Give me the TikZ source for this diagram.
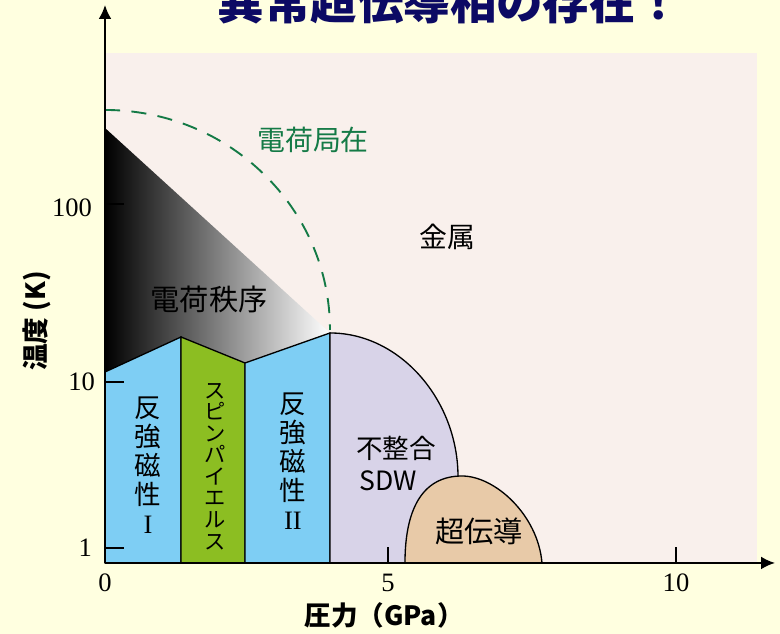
\documentclass[tikz,border=0pt]{standalone}
\usepackage{fontspec}
\setmainfont{Liberation Serif}
\newfontfamily\jpfont{Noto Sans CJK JP}
\usetikzlibrary{arrows.meta}

\definecolor{cffffe0}{RGB}{255,255,224}
\definecolor{cf9f0ec}{RGB}{249,240,236}
\definecolor{c7ecef4}{RGB}{126,206,244}
\definecolor{c8cbe22}{RGB}{140,190,34}
\definecolor{cd8d3e8}{RGB}{216,211,232}
\definecolor{ce8caa8}{RGB}{232,202,168}
\definecolor{c147a46}{RGB}{20,122,70}
\definecolor{c0c0a64}{RGB}{12,10,100}
\def \globalscale {1.000000}

\begin{document}
\begin{tikzpicture}[y=1cm, x=1cm, yscale=\globalscale,xscale=\globalscale, every node/.append style={scale=\globalscale}, inner sep=0pt, outer sep=0pt,
  phase/.style={draw=black,line width=0.035cm},
  axis/.style={draw=black,line width=0.05cm,-{Latex[length=0.37cm,width=0.34cm]}},
  tick/.style={draw=black,line width=0.07cm},
  num/.style={text=black,font=\fontsize{20}{24}\selectfont},
  jplabel/.style={text=black,font=\jpfont\fontsize{21}{25}\selectfont}]
  \useasboundingbox (0,0) rectangle (20.637,16.774);
  \path[fill=cffffe0] (0,0) rectangle (20.637,16.774);

  \node[text=c0c0a64,anchor=base,font=\jpfont\bfseries\fontsize{35}{40}\selectfont] (textTitle) at (11.906, 16.246){異常超伝導相の存在！};



  \path[fill=cf9f0ec] (2.778, 1.879) rectangle (20.029, 15.372);



  \path[left color=black,right color=white] (2.778, 13.388) -- (8.731, 7.964) -- (6.482, 7.170) -- (4.789, 7.858) -- (2.778, 6.932) -- cycle;



  \path[draw=c147a46,line width=0.05cm,dash pattern=on 0.4cm off 0.3cm] (2.778, 13.864) arc[start angle=90, end angle=0, x radius=5.953, y radius=5.821];



  \path[phase,fill=c7ecef4] (2.778, 6.932) -- (4.789, 7.858) -- (4.789, 1.879) -- (2.778, 1.879) -- cycle;



  \path[phase,fill=c8cbe22] (4.789, 7.858) -- (6.482, 7.170) -- (6.482, 1.879) -- (4.789, 1.879) -- cycle;



  \path[phase,fill=c7ecef4] (6.482, 7.170) -- (8.731, 7.964) -- (8.731, 1.879) -- (6.482, 1.879) -- cycle;



  \path[fill=cd8d3e8] (8.731, 1.879) -- (8.731, 7.964).. controls (10.583, 7.964) and (12.118, 6.191) .. (12.118, 4.154) -- (12.118, 1.879) -- cycle;



  \path[phase] (8.731, 1.879) -- (8.731, 7.964).. controls (10.583, 7.964) and (12.118, 6.191) .. (12.118, 4.154);



  \path[phase,fill=ce8caa8] (10.715, 1.879).. controls (10.715, 3.413) and (11.245, 4.180) .. (12.224, 4.180).. controls (13.097, 4.180) and (14.234, 3.149) .. (14.340, 1.879) -- cycle;



  \coordinate (origin) at (2.778, 1.879);
  \coordinate (yEnd) at (2.778, 16.642);
  \coordinate (xEnd) at (20.505, 1.879);
  \path[axis] (origin) -- (yEnd);
  \path[axis] (origin) -- (xEnd);



  \path[tick] (2.778, 11.377) -- (3.281, 11.377);
  \path[tick] (2.778, 6.667) -- (3.281, 6.667);
  \path[tick] (2.778, 2.275) -- (3.281, 2.275);
  \path[tick] (10.266, 1.879) -- (10.266, 2.302);
  \path[tick] (17.886, 1.879) -- (17.886, 2.302);



  \node[num,anchor=east] (text100) at (2.434, 11.271){100};
  \node[num,anchor=east] (text10) at (2.514, 6.667){10};
  \node[num,anchor=east] (text1) at (2.434, 2.275){1};
  \node[num] (textZero) at (2.778, 1.349){0};
  \node[num] (textFive) at (10.266, 1.349){5};
  \node[num] (textTen) at (17.886, 1.349){10};



  \node[text=black,font=\jpfont\bfseries\fontsize{20}{24}\selectfont] (textPressure) at (10.160, 0.503){圧力（GPa）};
  \node[text=black,rotate=90,font=\jpfont\bfseries\fontsize{20}{24}\selectfont] (textTemp) at (0.979, 8.281){温度 (K)};



  \node[jplabel,text=c147a46] (textLocal) at (8.282, 13.070){電荷局在};
  \node[jplabel] (textMetal) at (11.827, 10.504){金属};
  \node[jplabel,font=\jpfont\fontsize{22}{26}\selectfont] (textCO) at (5.530, 8.863){電荷秩序};



  \node[jplabel,align=center,font=\jpfont\fontsize{20}{21.75}\selectfont] (textAFa) at (3.916, 4.471){反\\強\\磁\\性\\{\rmfamily I}};
  \node[jplabel,align=center,font=\jpfont\fontsize{16}{16.2}\selectfont] (textSP) at (5.688, 4.432){ス\\ピ\\ン\\パ\\イ\\エ\\ル\\ス};
  \node[jplabel,align=center,font=\jpfont\fontsize{20}{21.75}\selectfont] (textAFb) at (7.752, 4.577){反\\強\\磁\\性\\{\rmfamily II}};



  \node[jplabel,font=\jpfont\fontsize{20}{24}\selectfont] (textIncomm) at (10.477, 4.921){不整合};
  \node[jplabel,font=\jpfont\fontsize{20}{24}\selectfont] (textSDW) at (10.266, 4.048){SDW};
  \node[jplabel,font=\jpfont\fontsize{22}{26}\selectfont] (textSC) at (12.673, 2.725){超伝導};




\end{tikzpicture}
\end{document}
